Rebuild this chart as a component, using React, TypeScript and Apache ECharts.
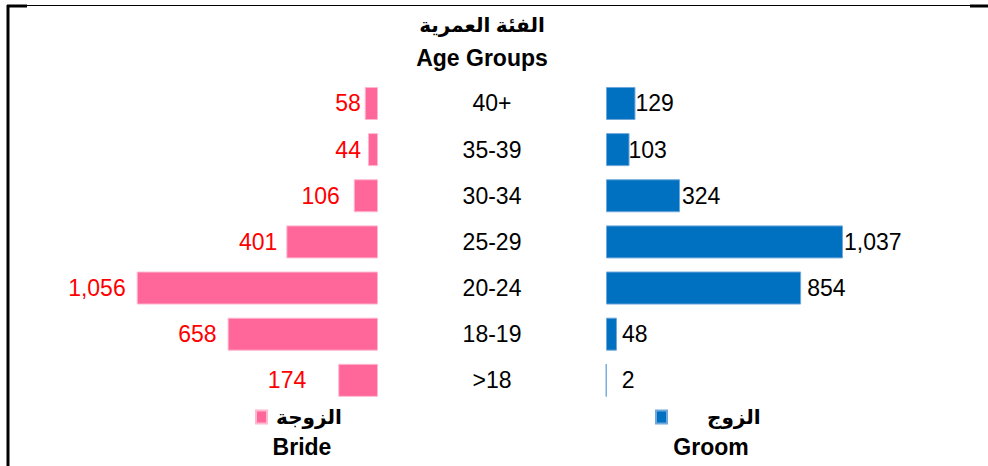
import React, { useEffect, useRef } from "react";
import * as echarts from "echarts";

// ---- data ----
const categories = ["40+", "35-39", "30-34", "25-29", "20-24", "18-19", ">18"];
const brideValues = [58, 44, 106, 401, 1056, 658, 174];
const groomValues = [129, 103, 324, 1037, 854, 48, 2];
const brideName = "الزوجة";
const groomName = "الزوج";
const brideNameEn = "Bride";
const groomNameEn = "Groom";
const headerAr = "الفئة العمرية";
const headerEn = "Age Groups";

// ---- style constants (label gaps from bar ends) ----
const brideLabelGap = [4, 7, 14, 9, 11, 11, 32];
const groomLabelGap = [0, -1, 2, 1, 6, 5, 15];

const FONT = 'Arial, "Liberation Sans", "DejaVu Sans", sans-serif';
const AXIS_MAX = 1600;
const PX_PER_UNIT = 0.2285;
const GRID_W = AXIS_MAX * PX_PER_UNIT;
const GRID_TOP = 80.4;
const GRID_H = 323;

const fmt = (v: number) => v.toLocaleString("en-US");

export default function App() {
  const ref = useRef<HTMLDivElement>(null);
  useEffect(() => {
    if (!ref.current) return;
    const chart = echarts.init(ref.current, null, { renderer: "svg" });
    const legendText = {
      fontSize: 20,
      fontWeight: "bold",
      color: "#000",
      fontFamily: FONT,
    };
    chart.setOption({
      animation: false,
      backgroundColor: "#fff",
      grid: [
        { left: 378 - GRID_W, width: GRID_W, top: GRID_TOP, height: GRID_H },
        { left: 606, width: GRID_W, top: GRID_TOP, height: GRID_H },
      ],
      xAxis: [
        { gridIndex: 0, type: "value", min: 0, max: AXIS_MAX, inverse: true, show: false },
        { gridIndex: 1, type: "value", min: 0, max: AXIS_MAX, show: false },
      ],
      yAxis: [
        {
          gridIndex: 0,
          type: "category",
          data: categories,
          inverse: true,
          position: "right",
          axisLine: { show: false },
          axisTick: { show: false },
          splitLine: { show: false },
          axisLabel: {
            margin: 114,
            align: "center",
            fontSize: 23,
            color: "#000",
            fontFamily: FONT,
          },
        },
        {
          gridIndex: 1,
          type: "category",
          data: categories,
          inverse: true,
          show: false,
        },
      ],
      legend: [
        {
          data: [brideName],
          left: 255,
          top: 407,
          padding: 0,
          icon: "rect",
          itemWidth: 11,
          itemHeight: 13,
          selectedMode: false,
          textStyle: { ...legendText, padding: [0, 0, 0, 4] },
        },
        {
          data: [groomName],
          left: 655,
          top: 407,
          padding: 0,
          icon: "rect",
          itemWidth: 11,
          itemHeight: 13,
          selectedMode: false,
          textStyle: { ...legendText, padding: [0, 0, 0, 35] },
        },
      ],
      series: [
        {
          name: brideName,
          type: "bar",
          xAxisIndex: 0,
          yAxisIndex: 0,
          barWidth: 33,
          itemStyle: { color: "#FF6699", borderColor: "#FFB8D0", borderWidth: 1 },
          label: {
            show: true,
            position: "left",
            color: "#FF0000",
            fontSize: 23,
            fontFamily: FONT,
            formatter: (p: any) => fmt(p.value),
          },
          data: brideValues.map((v, i) => ({ value: v, label: { distance: brideLabelGap[i] } })),
        },
        {
          name: groomName,
          type: "bar",
          xAxisIndex: 1,
          yAxisIndex: 1,
          barWidth: 33,
          itemStyle: { color: "#0070C0", borderColor: "#6FA8DC", borderWidth: 1 },
          label: {
            show: true,
            position: "right",
            color: "#000",
            fontSize: 23,
            fontFamily: FONT,
            formatter: (p: any) => fmt(p.value),
          },
          data: groomValues.map((v, i) => ({ value: v, label: { distance: groomLabelGap[i] } })),
        },
      ],
      graphic: [
        { type: "line", shape: { x1: 8, y1: 5, x2: 8, y2: 466 }, style: { stroke: "#000", lineWidth: 3 } },
        { type: "line", shape: { x1: 7, y1: 6, x2: 27, y2: 6 }, style: { stroke: "#000", lineWidth: 3 } },
        { type: "line", shape: { x1: 27, y1: 5.5, x2: 970, y2: 5.5 }, style: { stroke: "#000", lineWidth: 1.2 } },
        { type: "line", shape: { x1: 970, y1: 6, x2: 988, y2: 6 }, style: { stroke: "#000", lineWidth: 3 } },
        {
          type: "text",
          x: 482,
          y: 25,
          style: {
            text: headerAr,
            font: `bold 20px ${FONT}`,
            fill: "#000",
            textAlign: "center",
            textVerticalAlign: "middle",
          },
        },
        {
          type: "text",
          x: 482,
          y: 58,
          style: {
            text: headerEn,
            font: `bold 23px ${FONT}`,
            fill: "#000",
            textAlign: "center",
            textVerticalAlign: "middle",
          },
        },
        {
          type: "text",
          x: 302,
          y: 447,
          style: {
            text: brideNameEn,
            font: `bold 23px ${FONT}`,
            fill: "#000",
            textAlign: "center",
            textVerticalAlign: "middle",
          },
        },
        {
          type: "text",
          x: 711,
          y: 447,
          style: {
            text: groomNameEn,
            font: `bold 23px ${FONT}`,
            fill: "#000",
            textAlign: "center",
            textVerticalAlign: "middle",
          },
        },
      ],
    });
    return () => chart.dispose();
  }, []);
  return (
    <div
      ref={ref}
      style={{ position: "fixed", left: 0, top: 0, width: 988, height: 466 }}
    />
  );
}
